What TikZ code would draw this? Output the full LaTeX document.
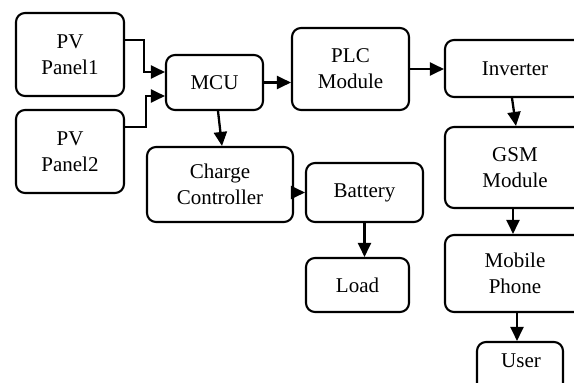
\documentclass[tikz,border=0pt]{standalone}
\usepackage{fontspec}
\setmainfont{Liberation Serif}
\usetikzlibrary{arrows.meta,calc}
\begin{document}
\begin{tikzpicture}[x=1pt,y=-1pt,
  block/.style={draw, line width=2.1pt, rounded corners=9pt, align=center,
    inner sep=0pt, font=\fontsize{21}{26}\selectfont},
  arr/.style={line width=2.3pt, -{Triangle[length=14pt,width=13pt]}},
  lbl/.style={font=\fontsize{21}{26}\selectfont, inner sep=0pt}]
\useasboundingbox (0,0) rectangle (574,383);
\clip (0,0) rectangle (574,383);
% blocks
\node[block, minimum width=108, minimum height=83] (p1) at (70,54.5) {PV\\Panel1};
\node[block, minimum width=108, minimum height=83] (p2) at (70,151.5) {PV\\Panel2};
\node[block, minimum width=97, minimum height=55] (mcu) at (214.5,82.5) {MCU};
\node[block, minimum width=117, minimum height=82] (plc) at (350.5,69) {PLC\\Module};
\node[block, minimum width=140, minimum height=57] (inv) at (515,68.5) {Inverter};
\node[block, minimum width=140, minimum height=81] (gsm) at (515,167.5) {GSM\\Module};
\node[block, minimum width=140, minimum height=77] (mob) at (515,273.5) {Mobile\\Phone};
\node[block, minimum width=86, minimum height=50] (user) at (520,367) {};
\node[lbl, anchor=base] (usertxt) at (521,367) {User};
\node[block, minimum width=146, minimum height=75] (cc) at (220,184.5) {Charge\\Controller};
\node[block, minimum width=117, minimum height=59] (bat) at (364.5,192.5) {Battery};
\node[block, minimum width=103, minimum height=54] (load) at (357.5,285) {Load};
% connectors
\draw[arr] ($(p1.east)+(0,-14.5)$) -| ($(mcu.west)+(-21,-10.5)$) -- ($(mcu.west)+(0,-10.5)$);
\draw[arr] ($(p2.east)+(0,-24.5)$) -| ($(mcu.west)+(-19,13.5)$) -- ($(mcu.west)+(0,13.5)$);
\draw[arr] (mcu.east) -- (mcu.east -| plc.west);
\draw[arr] (plc.east) -- (plc.east -| inv.west);
\draw[arr] ($(mcu.south)+(3.5,0)$) -- ($(cc.north)+(2,0)$);
\draw[arr] (bat.west -| cc.east) -- (bat.west);
\draw[arr] (bat.south) -- (bat.south |- load.north);
\draw[arr] ($(inv.south)+(-3,0)$) -- ($(gsm.north)+(1,0)$);
\draw[arr] ($(gsm.south)+(-2,0)$) -- ($(mob.north)+(-2,0)$);
\draw[arr] ($(mob.south)+(2,0)$) -- ($(user.north)+(-3,0)$);
\end{tikzpicture}
\end{document}
